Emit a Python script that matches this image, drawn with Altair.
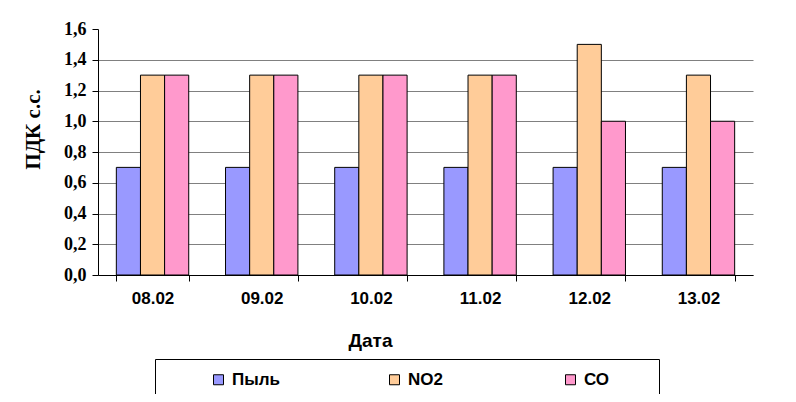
import altair as alt
import pandas as pd

dates = ["08.02", "09.02", "10.02", "11.02", "12.02", "13.02"]
series = ["Пыль", "NO2", "СО"]
pyl = [0.7, 0.7, 0.7, 0.7, 0.7, 0.7]
no2 = [1.3, 1.3, 1.3, 1.3, 1.5, 1.3]
co = [1.3, 1.3, 1.3, 1.3, 1.0, 1.0]
colors = ["#9999FF", "#FFCC99", "#FF99CC"]
y_ticks = [0.0, 0.2, 0.4, 0.6, 0.8, 1.0, 1.2, 1.4, 1.6]

rows = []
for name, vals in zip(series, [pyl, no2, co]):
    for d, v in zip(dates, vals):
        rows.append({"date": d, "series": name, "value": v})
df = pd.DataFrame(rows)

chart = alt.Chart(df).mark_bar(stroke="black", strokeWidth=1).encode(
    x=alt.X(
        "date:N",
        sort=dates,
        scale=alt.Scale(paddingInner=0.337, paddingOuter=0.168),
        axis=alt.Axis(
            title="Дата",
            labelAngle=0,
            tickBand="extent",
            grid=False,
            domainColor="black",
            tickColor="black",
            tickSize=6,
            labelFont="Liberation Sans",
            labelFontSize=17,
            labelFontWeight="bold",
            labelColor="black",
            labelPadding=9,
            titleFont="Liberation Sans",
            titleFontSize=19,
            titleFontWeight="bold",
            titleColor="black",
            titleX=272,
            titleY=71,
            titleAlign="center",
            titleBaseline="alphabetic",
        ),
    ),
    xOffset=alt.XOffset("series:N", sort=series),
    y=alt.Y(
        "value:Q",
        scale=alt.Scale(domain=[0, 1.6], nice=False),
        axis=alt.Axis(
            title="ПДК с.с.",
            values=y_ticks,
            labelExpr="replace(format(datum.value, '.1f'), '.', ',')",
            grid=True,
            gridColor={"condition": {"test": "datum.value >= 1.55", "value": "transparent"}, "value": "#808080"},
            gridWidth=1,
            domainColor="black",
            tickColor="black",
            tickSize=6,
            labelFont="Liberation Serif",
            labelFontSize=18,
            labelFontWeight="bold",
            labelColor="black",
            labelPadding=6,
            titleFont="Liberation Serif",
            titleFontSize=21,
            titleFontWeight="bold",
            titleColor="black",
            titleAngle=270,
            titleX=-59,
            titleY=100,
            titleAlign="center",
            titleBaseline="alphabetic",
        ),
    ),
    color=alt.Color(
        "series:N",
        sort=series,
        scale=alt.Scale(domain=series, range=colors),
        legend=alt.Legend(
            title="\u00a0",
            titleOrient="right",
            titlePadding=38,
            titleFontSize=11,
            orient="none",
            legendX=57,
            legendY=330,
            direction="horizontal",
            columns=3,
            gridAlign="all",
            columnPadding=63,
            symbolOffset=43,
            symbolType="square",
            symbolSize=100,
            symbolStrokeColor="black",
            symbolStrokeWidth=1,
            labelFont="Liberation Sans",
            labelFontSize=17,
            labelFontWeight="bold",
            labelColor="black",
            labelOffset=5,
            padding=12,
            strokeColor="black",
            fillColor="white",
        ),
    ),
).properties(
    width=655,
    height=246,
    autosize=alt.AutoSizeParams(type="none"),
    padding={"left": 90, "top": 21, "right": 35, "bottom": 119},
).configure_view(strokeOpacity=0)

chart.save("out.html", embed_options={"renderer": "svg", "actions": False})
